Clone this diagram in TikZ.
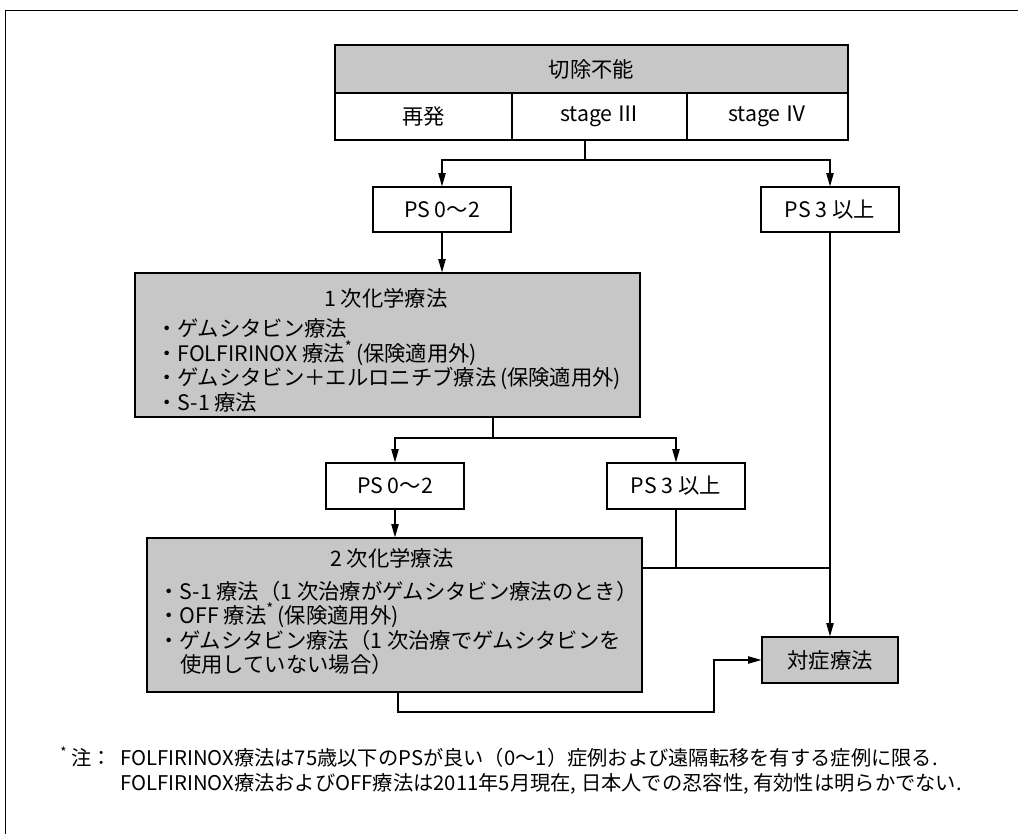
\documentclass[tikz,border=0pt]{standalone}
\usepackage{fontspec}
\setmainfont{Noto Sans CJK JP}
\usetikzlibrary{arrows.meta}
\tikzset{
  bx/.style={draw, line width=0.9pt, inner sep=0pt},
  gr/.style={fill=black!22},
  ln/.style={line width=0.9pt},
  arr/.style={line width=0.9pt, -{Triangle[length=10pt,width=5.5pt]}},
  tx/.style={inner sep=0pt, font=\fontsize{16}{19}\selectfont},
  fn/.style={inner sep=0pt, anchor=west, font=\fontsize{15.2}{18}\selectfont}
}
\begin{document}
\begin{tikzpicture}[x=0.75pt,y=-0.75pt]
\useasboundingbox (0,0) rectangle (1018,834);
% frame
\draw[line width=0.7pt] (1018,10) -- (5,10) -- (5,834);
% top table
\node[bx,gr,minimum width=513*0.75pt,minimum height=48*0.75pt] (hdr) at (591.5,69) {};
\node[bx,minimum width=177*0.75pt,minimum height=47*0.75pt] (c1) at (423.5,116.5) {};
\node[bx,minimum width=175*0.75pt,minimum height=47*0.75pt] (c2) at (599.5,116.5) {};
\node[bx,minimum width=161*0.75pt,minimum height=47*0.75pt] (c3) at (767.5,116.5) {};
\node[tx] (thdr) at (hdr.center) {切除不能};
\node[tx] (tc1) at (c1.center) {再発};
\node[tx] (tc2) at (c2.center) {stage Ⅲ};
\node[tx] (tc3) at (c3.center) {stage Ⅳ};
% PS boxes level 1
\node[bx,minimum width=138*0.75pt,minimum height=45*0.75pt,tx] (ps1l) at (442,209.5) {PS 0〜2};
\node[bx,minimum width=138*0.75pt,minimum height=45*0.75pt,tx] (ps1r) at (830,209.5) {PS 3 以上};
% first line chemo
\node[bx,gr,minimum width=505*0.75pt,minimum height=144*0.75pt] (chem1) at (387.5,345) {};
\node[tx] (t1h) at (386,298) {1 次化学療法};
\node[tx,anchor=west] (t11) at (156,328) {・ゲムシタビン療法};
\node[tx,anchor=west] (t12) at (156,353) {・FOLFIRINOX 療法\textsuperscript{*}\,(保険適用外)};
\node[tx,anchor=west] (t13) at (156,378) {・ゲムシタビン＋エルロニチブ療法\,(保険適用外)};
\node[tx,anchor=west] (t14) at (156,402) {・S-1 療法};
% PS boxes level 2
\node[bx,minimum width=138*0.75pt,minimum height=46*0.75pt,tx] (ps2l) at (395,486) {PS 0〜2};
\node[bx,minimum width=138*0.75pt,minimum height=46*0.75pt,tx] (ps2r) at (676,486) {PS 3 以上};
% second line chemo
\node[bx,gr,minimum width=495*0.75pt,minimum height=154*0.75pt] (chem2) at (394.5,615) {};
\node[tx] (t2h) at (392,558) {2 次化学療法};
\node[tx,anchor=west] (t21) at (158,591) {・S-1 療法（1 次治療がゲムシタビン療法のとき）};
\node[tx,anchor=west] (t22) at (158,615) {・OFF 療法\textsuperscript{*}\,(保険適用外)};
\node[tx,anchor=west] (t23) at (158,640) {・ゲムシタビン療法（1 次治療でゲムシタビンを};
\node[tx,anchor=west] (t24) at (180,664) {使用していない場合）};
% supportive care
\node[bx,gr,minimum width=136*0.75pt,minimum height=46*0.75pt,tx] (sym) at (830,660) {対症療法};
% connectors
\coordinate (j1) at (585,160);
\draw[ln] (c2.south -| j1) -- (j1);
\draw[arr] (j1) -| (ps1l.north);
\draw[arr] (j1) -| (ps1r.north);
\draw[arr] (ps1l.south) -- (ps1l.south |- chem1.north);
\draw[arr] (ps1r.south) -- (sym.north);
\coordinate (j2) at (493,438);
\draw[ln] (chem1.south -| j2) -- (j2);
\draw[arr] (j2) -| (ps2l.north);
\draw[arr] (j2) -| (ps2r.north);
\draw[arr] (ps2l.south) -- (ps2l.south |- chem2.north);
\coordinate (j3) at (830,568);
\draw[ln] (chem2.east |- j3) -- (j3);
\draw[ln] (ps2r.south) -- (ps2r.south |- j3);
\coordinate (b1) at (398,712);
\coordinate (b2) at (714,660);
\draw[arr] (chem2.south -| b1) -- (b1) -| (b2) -- (sym.west);
% footnote
\node[fn,font=\fontsize{10}{11}\selectfont] (ast) at (60,752) {*};
\node[fn] (note) at (71,758) {注：};
\node[fn] (f1) at (120,758) {FOLFIRINOX療法は75歳以下のPSが良い（0〜1）症例および遠隔転移を有する症例に限る.};
\node[fn] (f2) at (120,784) {FOLFIRINOX療法およびOFF療法は2011年5月現在, 日本人での忍容性, 有効性は明らかでない.};
\end{tikzpicture}
\end{document}
